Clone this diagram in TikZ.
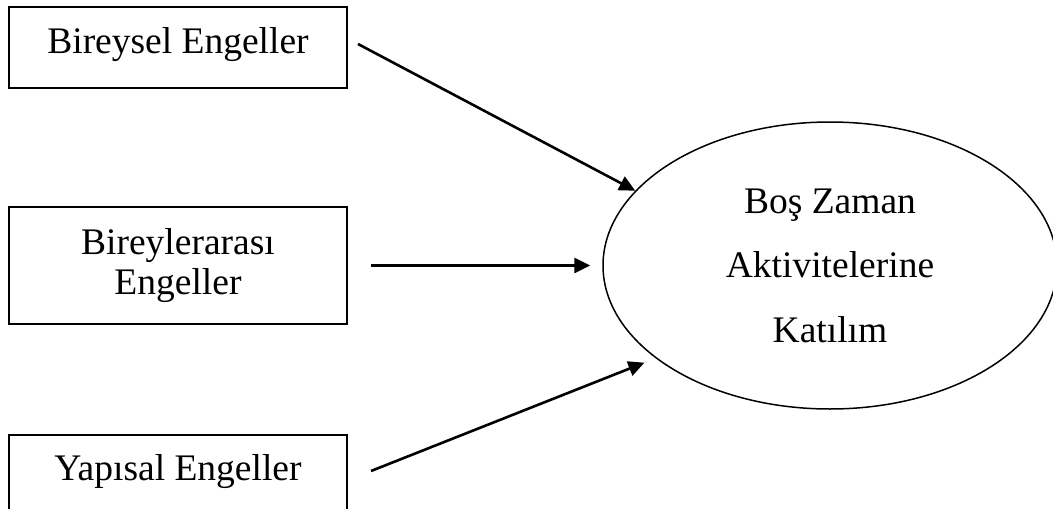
\documentclass[tikz,border=0pt]{standalone}
\usepackage{fontspec}
\setmainfont{Liberation Serif}
\usetikzlibrary{arrows.meta,shapes.geometric}
\begin{document}
\begin{tikzpicture}[x=1pt,y=-1pt,
  box/.style={draw,line width=2pt,rectangle,inner sep=0pt,minimum width=338pt,font=\fontsize{37.5}{40}\selectfont,align=center},
  ell/.style={draw,line width=1.5pt,ellipse,inner sep=0pt,minimum width=454pt,minimum height=287pt,font=\fontsize{37.5}{64.5}\selectfont,align=center},
  conn/.style={line width=2.6pt,-{Triangle[length=16pt,width=15pt]}}]
\useasboundingbox (0,0) rectangle (1053,509);
\node[box,text height=46pt,text depth=35pt] (b1) at (178,47.5) {Bireysel Engeller};
\node[box,minimum height=117pt] (b2) at (178,265.5) {Bireylerarası\\Engeller};
\node[box,text height=45pt,text depth=55pt] (b3) at (178,485) {Yapısal Engeller};
\node[ell] (e) at (830,265.5) {Boş Zaman\\Aktivitelerine\\Katılım};
\draw[conn] ([xshift=10pt,yshift=3.5pt]b1.east) -- (e.159);
\draw[conn,shorten <=23pt,shorten >=12pt] (b2.east) -- (e.west);
\draw[conn,shorten >=12pt] ([xshift=23pt,yshift=14pt]b3.east) -- (e.208);
\end{tikzpicture}
\end{document}
